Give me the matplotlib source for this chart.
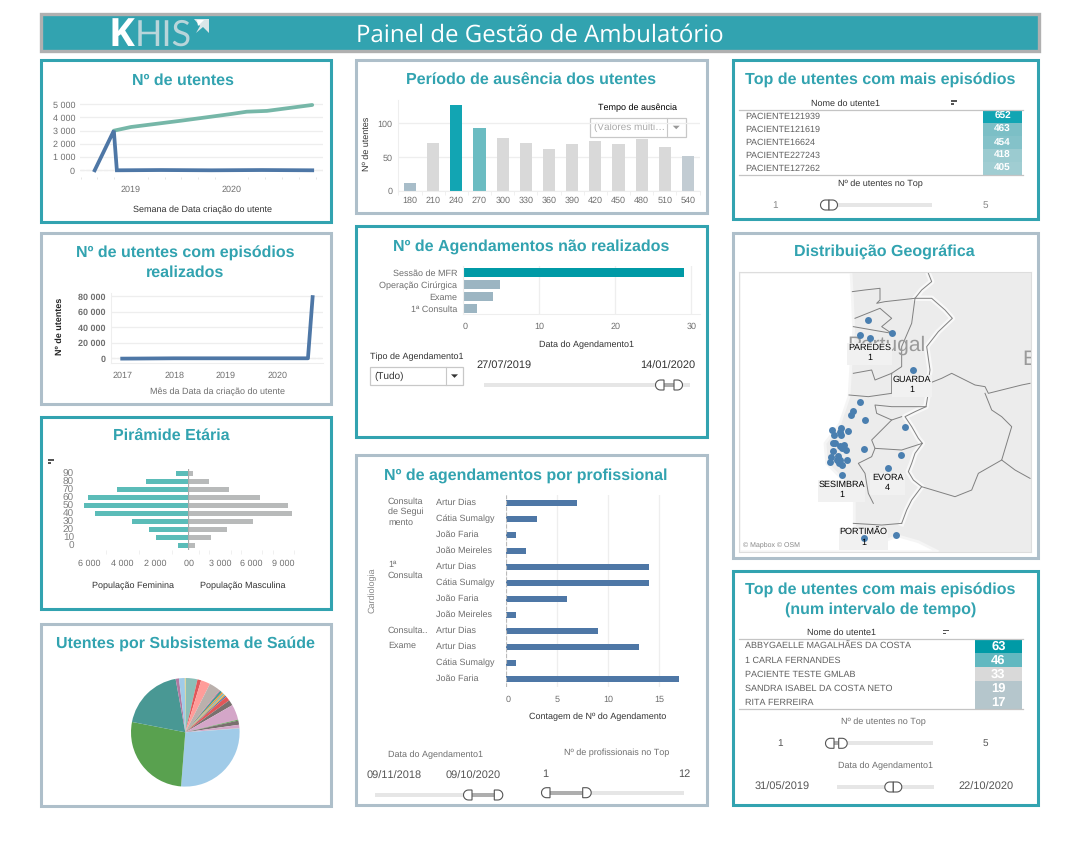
import numpy as np
import matplotlib
matplotlib.use("Agg")
import matplotlib.pyplot as plt
from matplotlib.patches import Rectangle, Polygon

plt.rcParams['font.family'] = ['Liberation Sans', 'DejaVu Sans']
plt.rcParams['text.hinting'] = 'no_hinting'
plt.rcParams['text.hinting_factor'] = 1

W, H = 1085, 847
TEAL = '#32a3b0'
SLATE = '#aebfca'
BLUE = '#4e77a6'
GRID = '#eeeeee'
TXT = '#6f6f6f'

# line charts
week_years = [2018.64, 2018.83, 2018.86, 2019.3, 2019.8, 2020.3, 2020.8]
week_blue = [0, 3000, 0, 20, 0, 20, 0]
green_years = [2018.83, 2019.0, 2019.5, 2020.0, 2020.15, 2020.35, 2020.55, 2020.8]
green_vals = [3000, 3280, 3760, 4270, 4440, 4500, 4700, 4950]
month_years = [2017.0, 2017.3, 2018.0, 2019.0, 2020.0, 2020.58, 2020.67]
month_vals = [-400, -300, 0, 0, 0, 0, 79000]

# age pyramid
ages = [0, 10, 20, 30, 40, 50, 60, 70, 80, 90]
female = [630, 1960, 2380, 3410, 5660, 6320, 6080, 4320, 2570, 750]
male = [630, 2150, 3660, 6120, 9810, 9440, 6790, 3850, 1960, 440]

# subsystems pie (shares, read clockwise from the top)
pie_shares = [0.5, 12.5, 4, 10, 12, 1, 2.5, 1.5, 2, 1.5, 1.5, 5, 6, 16.5, 1, 4.5, 3.5, 0.5,
              98.5, 96.5, 68.7, 3.6, 6.2, 0.5]
pie_colors = ['#e8c86a', '#8bbfb8', '#e15759', '#ff9d9a', '#bab0ac', '#d37295', '#499894',
              '#f28e2b', '#86bcb6', '#f1a63a', '#4e79a7', '#e15759', '#79706e', '#d4a6c8',
              '#59a14f', '#79706e', '#d4a6c8', '#bab0ac', '#a0cbe8', '#59a14f', '#499894',
              '#b07aa1', '#a0cbe8', '#f1ce63']

# absence
absence_days = ['180', '210', '240', '270', '300', '330', '360', '390', '420', '450', '480', '510', '540']
absence_vals = [12, 71, 127, 93, 78, 71, 62, 69, 74, 69, 77, 65, 52]
absence_colors = ['#a8bdc9', '#d9d9d9', '#12a5b3', '#6bbcc2', '#d9d9d9', '#d9d9d9', '#d9d9d9',
                  '#d9d9d9', '#d9d9d9', '#d9d9d9', '#d9d9d9', '#d9d9d9', '#c2ccd3']

# missed appointments
missed_types = ['Sessão de MFR', 'Operação Cirúrgica', 'Exame', '1ª Consulta']
missed_vals = [29, 4.9, 4, 1.9]
missed_colors = ['#009aa6', '#9cb5c2', '#9cb5c2', '#9cb5c2']

# appointments by professional
prof_names = ['Artur Dias', 'Cátia Sumalgy', 'João Faria', 'João Meireles', 'Artur Dias', 'Cátia Sumalgy',
              'João Faria', 'João Meireles', 'Artur Dias', 'Artur Dias', 'Cátia Sumalgy', 'João Faria']
prof_vals = [7, 3, 1, 2, 14, 14, 6, 1, 9, 13, 1, 17]

# top tables
top_names = ['PACIENTE121939', 'PACIENTE121619', 'PACIENTE16624', 'PACIENTE227243', 'PACIENTE127262']
top_vals = [652, 463, 454, 418, 405]
top_colors = ['#12a5b3', '#7cbfc6', '#84c2c9', '#9bcbd0', '#a0cdd2']
range_names = ['ABBYGAELLE MAGALHÃES DA COSTA', '1 CARLA FERNANDES', 'PACIENTE TESTE GMLAB',
               'SANDRA ISABEL DA COSTA NETO', 'RITA FERREIRA']
range_vals = [63, 46, 33, 19, 17]
range_colors = ['#009aa6', '#62b8c0', '#d9d9d9', '#b5c6cc', '#b5c6cc']

# map, in picture coordinates of the map frame
dots_x = [429, 404, 434, 501, 563, 404, 383, 379, 419, 540, 321, 347, 345, 368, 328, 348, 325, 330, 345,
          358, 352, 363, 323, 417, 528, 318, 340, 335, 345, 315, 365, 350, 343, 489, 351, 513, 417]
dots_y = [269, 315, 323, 309, 420, 516, 542, 554, 570, 590, 600, 595, 607, 603, 615, 615, 640, 640, 648,
          645, 655, 660, 663, 657, 675, 681, 678, 690, 690, 696, 690, 705, 700, 714, 735, 915, 923]
sea = [(43, 127), (378, 127), (382, 200), (386, 300), (378, 400), (372, 500), (345, 580), (300, 640),
       (305, 700), (350, 745), (388, 790), (388, 880), (395, 925), (430, 955), (470, 935), (520, 918),
       (580, 935), (640, 965), (43, 965)]
frontier = [(610, 130), (620, 155), (590, 180), (570, 205), (620, 205), (660, 240), (682, 265), (640, 305),
            (605, 350), (615, 420), (612, 440), (608, 500), (603, 530), (570, 545), (540, 560), (560, 590),
            (580, 625), (592, 640), (570, 670), (560, 700), (550, 725), (565, 750), (590, 770), (560, 810),
            (545, 840), (530, 880)]
borders = [
    [(382, 185), (420, 180), (465, 175), (465, 210), (455, 220), (480, 215), (570, 205)],
    [(390, 265), (465, 235), (500, 265), (470, 290), (500, 310), (385, 290)],
    [(570, 205), (560, 280), (530, 350), (530, 410), (500, 430), (450, 450), (440, 420), (385, 430)],
    [(372, 495), (430, 500), (500, 490), (500, 430)],
    [(603, 530), (500, 530), (450, 525), (455, 550), (500, 570), (530, 560)],
    [(500, 570), (440, 630), (450, 655), (530, 660), (592, 640)],
    [(450, 655), (440, 680), (400, 700), (420, 730), (430, 790), (445, 820)],
    [(385, 880), (470, 885), (530, 880)],
    [(612, 460), (650, 445), (680, 430), (720, 450), (750, 465), (780, 470), (790, 490), (830, 480), (870, 470),
     (890, 465), (915, 460)],
    [(780, 490), (800, 540), (830, 560), (860, 590), (845, 640), (830, 690), (760, 730), (740, 780), (690, 800),
     (640, 785), (590, 770)],
    [(830, 690), (870, 720), (915, 745)],
]
city_labels = ['PAREDES\n1', 'GUARDA\n1', 'SESIMBRA\n1', 'EVORA\n4', 'PORTIMÃO\n1']
city_x = [433, 561, 350, 488, 416]
city_y = [371, 467, 782, 762, 927]
city_w = [134, 122, 141, 104, 148]

fig = plt.figure(figsize=(W / 100, H / 100), dpi=100, facecolor='white')

# page layer in pixels, everything that is not a chart sits here
bg = fig.add_axes([0, 0, 1, 1], zorder=0)
bg.set_xlim(0, W)
bg.set_ylim(H, 0)
bg.axis('off')


def ax_px(left, top, right, bottom, **kw):
    a = fig.add_axes([left / W, 1 - bottom / H, (right - left) / W, (bottom - top) / H], zorder=2, **kw)
    a.patch.set_alpha(0)
    for s in a.spines.values():
        s.set_visible(False)
    a.tick_params(length=0, labelsize=6.8, labelcolor=TXT)
    return a


def label(x, y, s, size=6.4, color='#333333', ha='center', **kw):
    bg.text(x, y, s, fontsize=size, color=color, ha=ha, va='center', **kw)


def panel(x0, y0, x1, y1, color, title_lines=(), title_x=None, title_y=()):
    bg.add_patch(Rectangle((x0 + 1.5, y0 + 1.5), x1 - x0 - 3, y1 - y0 - 3, fc='white', ec=color, lw=2.2))
    for line, y in zip(title_lines, title_y):
        label(title_x, y + 1, line, size=11.45, color=TEAL, fontweight='bold')


def handle(x, y, side):
    t = np.linspace(np.pi / 2, 3 * np.pi / 2, 20)
    if side == 'left':
        arc_x = x - 3.5 + 5 * np.cos(t)
    else:
        arc_x = x + 3.5 - 5 * np.cos(t)
    pts = np.vstack([np.c_[arc_x, y + 5 * np.sin(t)], [x, y - 5], [x, y + 5]])
    bg.add_patch(Polygon(pts, closed=True, fc='white', ec='#555555', lw=0.8, zorder=4))


def slider(x0, x1, y, inner_l, inner_r):
    bg.add_patch(Rectangle((x0, y - 2), x1 - x0, 4, fc='#e6e6e6', ec='none', zorder=2))
    bg.add_patch(Rectangle((inner_l, y - 2), inner_r - inner_l, 4, fc='#aeaeae', ec='none', zorder=3))
    handle(inner_l, y, 'left')
    handle(inner_r, y, 'right')


def dropdown(x0, x1, y0, y1, divider, text, color, arrow):
    bg.add_patch(Rectangle((x0, y0), x1 - x0, y1 - y0, fc='white', ec='#c8c8c8', lw=0.9))
    bg.plot([divider, divider], [y0, y1], color='#c8c8c8', lw=0.8)
    label(x0 + 4, (y0 + y1) / 2, text, size=7.2, color=color, ha='left')
    ax_ = (divider + x1) / 2
    ym = (y0 + y1) / 2
    bg.add_patch(Polygon([(ax_ - 3.5, ym - 1.5), (ax_ + 3.5, ym - 1.5), (ax_, ym + 2)], fc=arrow, ec='none'))


def sort_icon(x, y):
    bg.add_patch(Rectangle((x, y - 2.5), 6, 1.5, fc='#555555', ec='none'))
    bg.add_patch(Rectangle((x, y + 0.5), 3, 1.5, fc='#555555', ec='none'))


def table(x0, x1, top, row_h, cell_x0, cell_x1, names, vals, colors, size, vsize):
    bg.plot([x0, x1], [top, top], color='#c4c4c4', lw=0.9)
    bg.plot([x0, x1], [top + row_h * len(names)] * 2, color='#c4c4c4', lw=0.9)
    for i, (n, v, c) in enumerate(zip(names, vals, colors)):
        y = top + row_h * (i + 0.5)
        bg.add_patch(Rectangle((cell_x0, y - row_h / 2), cell_x1 - cell_x0, row_h, fc=c, ec='none'))
        label(745, y, n, size=size, color='#5f5f5f', ha='left')
        label((cell_x0 + cell_x1) / 2, y, str(v), size=vsize, color='white', fontweight='bold')


def spaced(v):
    return f"{v:,}".replace(",", " ")


# header
bg.add_patch(Rectangle((40.5, 14.5), 998, 37, fc=TEAL, ec='#b0b0b0', lw=2.4))
bg.text(109, 46, 'K', fontsize=28, family='Open Sans', fontweight='bold', color='white', ha='left', va='baseline')
bg.text(135, 46, 'HIS', fontsize=26, family='Lato', color='#b8d5da', ha='left', va='baseline')
bg.add_patch(Polygon([(194, 19), (209, 19), (209, 33), (203, 27), (196, 33), (200, 26)], fc='#dbe6e8', ec='none'))
bg.add_patch(Polygon([(197, 20), (204, 20), (198, 26)], fc='white', ec='none'))
bg.text(540, 35.5, 'Painel de Gestão de Ambulatório', fontsize=17.2, family='Open Sans', color='white', ha='center', va='center')

# panels
panel(39, 59, 332, 224, TEAL, ['Nº de utentes'], 183, [79.6])
panel(39, 232, 332, 406, SLATE, ['Nº de utentes com episódios', 'realizados'], 185, [252.7, 271.7])
panel(39, 416, 332, 611, TEAL, ['Pirâmide Etária'], 171.7, [436])
panel(39, 623, 332, 808, SLATE, ['Utentes por Subsistema de Saúde'], 185, [643.3])
panel(354, 59, 708, 215, SLATE, ['Período de ausência dos utentes'], 530.7, [79.3])
panel(354, 225, 708, 439, TEAL, ['Nº de Agendamentos não realizados'], 530.7, [245.3])
panel(354, 454, 708, 807, SLATE, ['Nº de agendamentos por profissional'], 525.7, [474.3])
panel(731, 59, 1039, 221, TEAL, ['Top de utentes com mais episódios'], 880.7, [79.3])
panel(731, 232, 1039, 560, SLATE, ['Distribuição Geográfica'], 884.7, [251.7])
panel(731, 570, 1039, 807, TEAL, ['Top de utentes com mais episódios', '(num intervalo de tempo)'], 880.7, [589.3, 609])

# Nº de utentes
ax = ax_px(80, 101.7, 323.3, 176.7)
ax.plot(green_years, green_vals, color='#76b7a8', lw=2.7, solid_capstyle='round')
ax.plot(week_years, week_blue, color=BLUE, lw=2.7, solid_joinstyle='miter')
ax.axhline(0, color='#bbbbbb', lw=0.8, ls='--', zorder=0)
ax.set_xlim(2018.494, 2020.91)
ax.set_ylim(-485, 5197)
ax.set_yticks([0, 1000, 2000, 3000, 4000, 5000], [spaced(v) for v in [0, 1000, 2000, 3000, 4000, 5000]])
ax.set_xticks([2019, 2020], ['2019', '2020'])
ax.set_xticks(np.arange(2018.5, 2020.9, 1 / 6), minor=True)
ax.tick_params(axis='x', which='minor', length=1.5, color='#e2e2e2')
ax.grid(axis='y', color=GRID, lw=0.9)
ax.set_axisbelow(True)
ax.tick_params(axis='x', pad=6)
ax.tick_params(axis='y', pad=3.5)
label(202.7, 209.7, 'Semana de Data criação do utente')

# Nº de utentes com episódios
ax = ax_px(111.3, 292.7, 323, 363.3)
ax.plot(month_years, month_vals, color=BLUE, lw=2.7)
ax.axhline(0, color='#bbbbbb', lw=0.8, ls='--', zorder=0)
ax.set_xlim(2016.79, 2020.87)
ax.set_ylim(-6450, 84650)
ax.set_yticks([0, 20000, 40000, 60000, 80000], [spaced(v) for v in [0, 20000, 40000, 60000, 80000]],
              fontweight='bold', fontsize=6.6)
ax.set_xticks([2017, 2018, 2019, 2020], ['2017', '2018', '2019', '2020'])
ax.grid(axis='y', color=GRID, lw=0.9)
ax.set_axisbelow(True)
for s in ['left', 'bottom']:
    ax.spines[s].set_visible(True)
    ax.spines[s].set_color(GRID)
ax.tick_params(axis='x', pad=6)
ax.tick_params(axis='y', pad=4)
bg.text(59.3, 326, 'Nº de utentes', fontsize=6.4, fontweight='bold', color='#222222', rotation=90, ha='center', va='center')
label(217, 391.7, 'Mês da Data da criação do utente', color=TXT)

# pyramid
sort_icon(48, 461.7)
ax = ax_px(80, 469.3, 188.3, 550)
ax.barh(ages, female, height=6.2, color='#5bbcb8')
ax.set_xlim(6560, 0)
ax.set_ylim(-5.9, 95)
ax.set_yticks(ages[::-1], [str(a) for a in ages[::-1]], fontsize=7.2, color='#808080')
ax.set_xticks([6000, 4000, 2000, 0], ['6 000', '4 000', '2 000', '0'], fontsize=6.5)
ax.set_xticks(range(0, 7000, 1000), minor=True)
ax.tick_params(axis='x', which='minor', length=3, color=GRID)
ax.tick_params(axis='x', pad=6.5)
ax.tick_params(axis='y', pad=4.3)
ax.get_xticklabels()[-1].set_ha('right')
ax = ax_px(188.3, 469.3, 296.7, 550)
ax.barh(ages, male, height=6.2, color='#b8baba')
ax.axvline(0, color='#aaaaaa', lw=0.9)
ax.set_xlim(0, 10260)
ax.set_ylim(-5.9, 95)
ax.set_yticks([])
ax.set_xticks([0, 3000, 6000, 9000], ['0', '3 000', '6 000', '9 000'], fontsize=6.5)
ax.set_xticks(range(0, 11000, 1000), minor=True)
ax.tick_params(axis='x', which='minor', length=3, color=GRID)
ax.tick_params(axis='x', pad=6.5)
ax.get_xticklabels()[0].set_ha('left')
label(133.3, 585.7, 'População Feminina')
label(242.3, 585.7, 'População Masculina')

# pie
ax = ax_px(125.3, 672.3, 245.3, 792.3)
ax.pie(pie_shares, colors=pie_colors, startangle=90, counterclock=False, radius=0.905)
ax.set_xlim(-1, 1)
ax.set_ylim(-1, 1)

# absence bars
ax = ax_px(398, 100, 700, 191)
ax.bar(range(len(absence_vals)), absence_vals, width=0.53, color=absence_colors)
ax.set_xlim(-0.52, 12.52)
ax.set_ylim(0, 134.5)
ax.set_yticks([0, 50, 100], ['0', '50', '100'])
ax.set_xticks(range(len(absence_days)), absence_days)
ax.set_xticks(np.arange(-0.5, 13, 1), minor=True)
ax.tick_params(axis='x', which='minor', length=3, color=GRID)
ax.grid(axis='y', color=GRID, lw=0.9)
ax.set_axisbelow(True)
for s in ['left', 'bottom']:
    ax.spines[s].set_visible(True)
    ax.spines[s].set_color(GRID)
ax.tick_params(axis='x', pad=4)
ax.tick_params(axis='y', pad=4)
bg.text(367, 144, 'Nº de utentes', fontsize=6.4, color='#333333', rotation=90, ha='center', va='center')
label(638, 108, 'Tempo de ausência', color='black')
dropdown(590, 685.5, 117.7, 136.7, 667, '(Valores múlti…', '#aaaaaa', '#999999')

# missed appointments
ax = ax_px(462.7, 266, 700, 314.3)
ypos = [0, 1, 2, 3]
ax.barh(ypos, missed_vals, height=0.75, color=missed_colors)
ax.set_xlim(0, 31.15)
ax.set_ylim(3.5, -0.53)
ax.set_yticks(ypos, missed_types, fontsize=6.4)
ax.set_xticks([0, 10, 20, 30], ['0', '10', '20', '30'])
ax.grid(axis='x', color=GRID, lw=0.9)
ax.set_axisbelow(True)
for s in ['left', 'bottom']:
    ax.spines[s].set_visible(True)
    ax.spines[s].set_color(GRID)
ax.tick_params(axis='y', pad=4)
ax.tick_params(axis='x', pad=6)
ax.get_xticklabels()[0].set_ha('left')
label(586.7, 344.7, 'Data do Agendamento1')
label(416.7, 356.7, 'Tipo de Agendamento1')
dropdown(370.3, 463.3, 366.7, 385, 445.7, '(Tudo)', '#333333', '#333333')
label(476, 366, '27/07/2019', size=8, ha='left')
label(695.7, 366, '14/01/2020', size=8, ha='right')
slider(484, 690, 385, 664, 674)

# by professional
ax = ax_px(506, 495, 686, 686.7)
ypos = np.arange(len(prof_vals))
ax.barh(ypos, prof_vals, height=0.4, color=BLUE)
ax.axvline(0, color='#bbbbbb', lw=0.8, ls='--')
ax.set_xlim(0, 17.65)
ax.set_ylim(11.5, -0.5)
ax.set_yticks([])
ax.set_xticks([0, 5, 10, 15], ['0', '5', '10', '15'])
ax.grid(axis='x', color=GRID, lw=0.9)
ax.set_axisbelow(True)
ax.tick_params(axis='x', pad=6)
ax.get_xticklabels()[0].set_ha('left')
for i, name in enumerate(prof_names):
    label(436, 503 + 16 * i, name, size=6.5, color=TXT, ha='left')
for y, s in [(501.7, 'Consulta'), (512, 'de Segui'), (522.7, 'mento'), (565, '1ª'), (575.7, 'Consulta'),
             (630.7, 'Consulta..'), (645.7, 'Exame')]:
    label(388, y, s, size=6.5, color=TXT, ha='left')
bg.text(372, 590.3, 'Cardiologia', fontsize=6.5, color='#888888', rotation=90, ha='center', va='center')
label(597.7, 716.7, 'Contagem de Nº do Agendamento')
label(387.7, 754.7, 'Data do Agendamento1', color=TXT, ha='left')
label(367, 776, '09/11/2018', size=8, color='#555555', ha='left')
label(500.7, 776, '09/10/2020', size=8, color='#555555', ha='right')
slider(375, 502.7, 795, 472, 494.3)
label(616.7, 752.7, 'Nº de profissionais no Top', color=TXT)
label(545, 774, '1', size=8, color='#555555')
label(690, 774, '12', size=8, color='#555555', ha='right')
slider(546.7, 684, 792.7, 550, 582.7)

# top table
label(845.7, 103.7, 'Nome do utente1')
sort_icon(951, 103)
table(739, 1022.7, 110.3, 13, 983, 1022, top_names, top_vals, top_colors, 6.55, 6.9)
label(880.3, 184, 'Nº de utentes no Top')
label(774.7, 205, '1', size=7.5, color='#888888')
label(985, 205, '5', size=7.5, color='#888888')
slider(821, 931.7, 205, 829, 829)

# map
ax = ax_px(739.3, 272.3, 1030.7, 551.7)
ax.patch.set_alpha(1)
ax.set_facecolor('#ececec')
ax.set_xlim(43, 917)
ax.set_ylim(965, 127)
ax.set_xticks([])
ax.set_yticks([])
for s in ax.spines.values():
    s.set_visible(True)
    s.set_color('#dddddd')
ax.add_patch(Polygon(sea, closed=True, fc='white', ec='#f5f5f5', lw=2))
fx, fy = zip(*frontier)
ax.plot(fx, fy, color='#f8f8f8', lw=4, zorder=1)
for b in borders:
    bx, by = zip(*b)
    ax.plot(bx, by, color='#808080', lw=0.7, zorder=2)
ax.plot(fx, fy, color='#808080', lw=0.7, zorder=2)
ax.text(483, 345, 'Portugal', fontsize=15, color='#9a9a9a', ha='center', va='center', zorder=3)
ax.text(892, 390, 'E', fontsize=15, color='#9a9a9a', ha='left', va='center', zorder=3, clip_on=True)
ax.text(53, 943, '© Mapbox © OSM', fontsize=4.8, color='#888888', ha='left', va='center', zorder=3)
for lab, cx, cy, cw in zip(city_labels, city_x, city_y, city_w):
    ax.add_patch(Rectangle((cx - cw / 2, cy - 33), cw, 66, fc='#f1f1f1', ec='none', zorder=4))
ax.scatter(dots_x, dots_y, s=25, color='#4a7fb0', linewidths=0, zorder=5)
for lab, cx, cy in zip(city_labels, city_x, city_y):
    ax.text(cx, cy - 3, lab, fontsize=6.6, color='black', ha='center', va='center', zorder=6, linespacing=1.25)

# top table within a period
label(841.7, 632.7, 'Nome do utente1')
sort_icon(943, 632.5)
table(739, 1022.7, 639.3, 14, 975, 1021.7, range_names, range_vals, range_colors, 6.55, 9)
label(883.3, 722, 'Nº de utentes no Top', color=TXT)
label(780, 743.3, '1', size=7.5, color='#555555')
label(985.7, 743.3, '5', size=7.5, color='#555555')
slider(828, 933, 743.3, 834, 838.7)
label(885, 766, 'Data do Agendamento1', color=TXT)
label(782.3, 787, '31/05/2019', size=7.8, color='#555555')
label(986, 787, '22/10/2020', size=7.8, color='#555555')
slider(837, 934, 787, 893.3, 893.3)

fig.savefig('out.png', dpi=100, facecolor='white')
